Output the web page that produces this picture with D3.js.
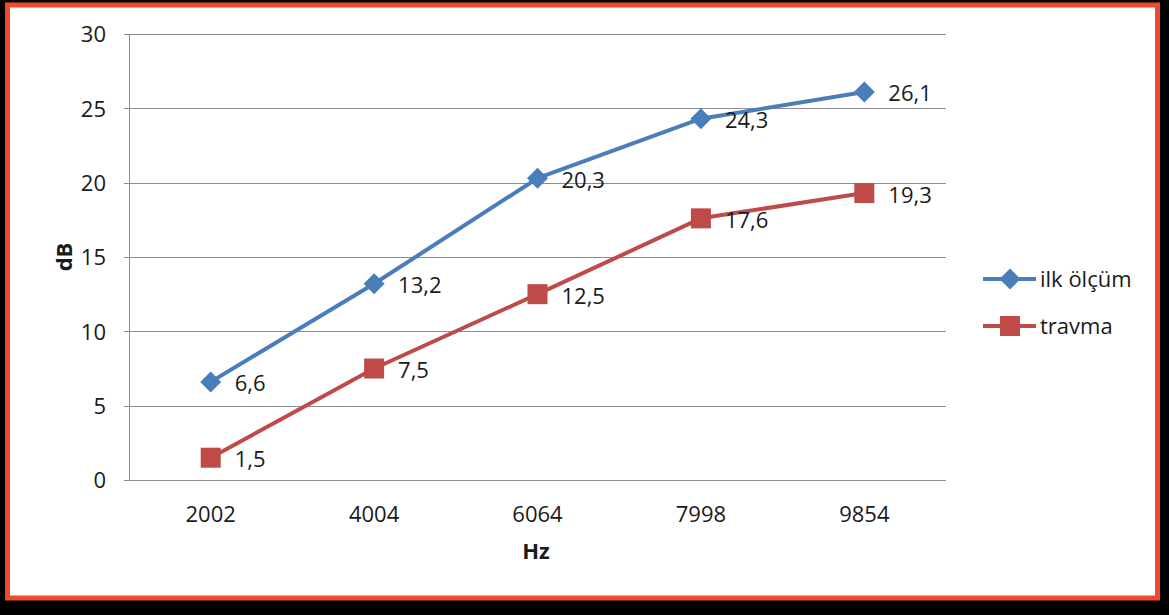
<!DOCTYPE html>
<html>
<head>
<meta charset="utf-8">
<script src="https://cdn.jsdelivr.net/npm/d3@7/dist/d3.min.js"></script>
<style>
  html, body { margin: 0; padding: 0; background: #000; }
  svg { display: block; }
  text { font-family: "Open Sans", "Noto Sans", "DejaVu Sans", sans-serif; fill: #1a1a1a; }
</style>
</head>
<body>
<svg id="chart" width="1169" height="615"></svg>
<script>
// Frequencies on the x axis
const categories = ["2002", "4004", "6064", "7998", "9854"];
// Hearing threshold values (dB) per series
const ilkOlcum = [6.6, 13.2, 20.3, 24.3, 26.1];
const travma = [1.5, 7.5, 12.5, 17.6, 19.3];
const seriesNames = ["ilk ölçüm", "travma"];
const yTicks = [0, 5, 10, 15, 20, 25, 30];

const FONT = "22px";
const svg = d3.select("#chart");

// frame: black backdrop, white card with red border
svg.append("rect").attr("x", 0).attr("y", 0).attr("width", 1169).attr("height", 615).attr("fill", "#000");
svg.append("rect").attr("x", 7.5).attr("y", 5).attr("width", 1150).attr("height", 593)
  .attr("fill", "#fff").attr("stroke", "#f04a2e").attr("stroke-width", 5);

const plot = { left: 129, right: 946, top: 34, bottom: 480 };

const x = d3.scaleBand().domain(categories).range([plot.left, plot.right]);
const y = d3.scaleLinear().domain([0, 30]).range([plot.bottom, plot.top]);

// horizontal gridlines
svg.append("g").selectAll("line").data(yTicks).join("line")
  .attr("x1", plot.left - 5).attr("x2", plot.right)
  .attr("y1", d => Math.round(y(d)) + 0.5).attr("y2", d => Math.round(y(d)) + 0.5)
  .attr("stroke", "#8c8c8c").attr("stroke-width", 1);

// y axis line
svg.append("line").attr("x1", plot.left + 0.5).attr("x2", plot.left + 0.5)
  .attr("y1", plot.top).attr("y2", plot.bottom)
  .attr("stroke", "#8c8c8c");

// y axis labels
const yAxis = d3.axisLeft(y).tickValues(yTicks).tickSize(0).tickPadding(0);
const gy = svg.append("g").attr("transform", `translate(${plot.left - 23},0)`).call(yAxis);
gy.select(".domain").remove();
gy.selectAll("text").style("font-size", FONT).style("font-family", null).attr("fill", "#1a1a1a")
  .attr("dy", "0.36em");

// x axis labels
const xAxis = d3.axisBottom(x).tickSize(0).tickPadding(0);
const gx = svg.append("g").attr("transform", `translate(0,${plot.bottom})`).call(xAxis);
gx.select(".domain").remove();
gx.selectAll("text").style("font-size", FONT).style("font-family", null).attr("fill", "#1a1a1a")
  .attr("y", 41.5).attr("dy", 0);

// axis titles
svg.append("text").attr("transform", `translate(72,257) rotate(-90)`)
  .attr("text-anchor", "middle")
  .style("font-size", FONT).style("font-weight", "bold").text("dB");
svg.append("text").attr("x", 536).attr("y", 559)
  .attr("text-anchor", "middle")
  .style("font-size", FONT).style("font-weight", "bold").text("Hz");

const cx = c => x(c) + x.bandwidth() / 2;
const line = d3.line().x(d => cx(d.c)).y(d => y(d.v));

const series = [
  { name: seriesNames[0], values: ilkOlcum, color: "#4a7ebb", marker: "diamond" },
  { name: seriesNames[1], values: travma, color: "#be4b48", marker: "square" }
];

function drawMarker(g, type, color) {
  if (type === "diamond") {
    g.append("path").attr("d", "M0,-10.5L10.5,0L0,10.5L-10.5,0Z").attr("fill", color);
  } else {
    g.append("rect").attr("x", -10).attr("y", -10).attr("width", 20).attr("height", 20).attr("fill", color);
  }
}

series.forEach(s => {
  const pts = categories.map((c, i) => ({ c, v: s.values[i] }));
  svg.append("path").datum(pts).attr("d", line)
    .attr("fill", "none").attr("stroke", s.color).attr("stroke-width", 4)
    .attr("stroke-linejoin", "round");
  pts.forEach(p => {
    const g = svg.append("g").attr("transform", `translate(${cx(p.c)},${y(p.v)})`);
    drawMarker(g, s.marker, s.color);
    g.append("text").attr("x", 24).attr("y", 9.5)
      .style("font-size", FONT).text(String(p.v).replace(".", ","));
  });
});

// legend
const legendY = [279, 326];
series.forEach((s, i) => {
  const g = svg.append("g").attr("transform", `translate(0,${legendY[i]})`);
  g.append("line").attr("x1", 983).attr("x2", 1036).attr("y1", 0).attr("y2", 0)
    .attr("stroke", s.color).attr("stroke-width", 4);
  const m = g.append("g").attr("transform", "translate(1010,0)");
  drawMarker(m, s.marker, s.color);
  g.append("text").attr("x", 1040).attr("y", 8)
    .style("font-size", FONT).text(s.name);
});
</script>
</body>
</html>
